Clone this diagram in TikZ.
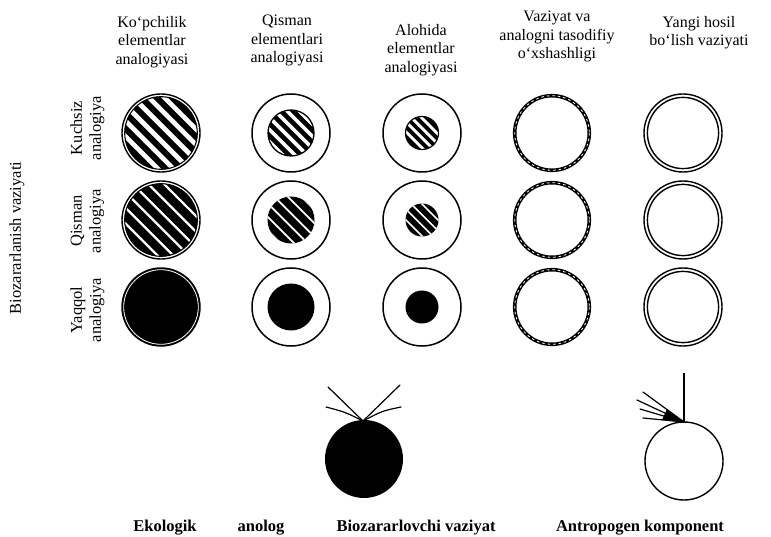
\documentclass[tikz,border=0pt]{standalone}
\usepackage{fontspec}
\setmainfont{Liberation Serif}
\newcommand\hatchdisc[6]{%
  \begin{scope}
    \clip (#1,#2) circle (#3);
    \foreach \k in {-6,...,6}{
      \draw[#5] (#1,#2) ++({(\k*#4+#6)*0.7071},{-(\k*#4+#6)*0.7071}) ++(-60,-60) -- ++(120,120);
    }
  \end{scope}}
\begin{document}
\begin{tikzpicture}[x=1pt,y=-1pt,
  hdr/.style={font=\fontsize{16}{18.5}\selectfont, align=center, inner sep=0pt, anchor=north},
  rowlab/.style={font=\fontsize{16.5}{19}\selectfont, align=center, rotate=90, inner sep=0pt},
  botlab/.style={font=\fontsize{16.5}{19}\selectfont\bfseries, inner sep=0pt, anchor=base},
  ring/.style={line width=1.5pt},
  hair/.style={line width=1.2pt, line cap=round},
]
\useasboundingbox (0,0) rectangle (771,537);
\fill[white] (0,0) rectangle (771,537);

% headers
\node[hdr] (h1) at (152,16) {Ko‘pchilik\\elementlar\\analogiyasi};
\node[hdr] (h2) at (287,15) {Qisman\\elementlari\\analogiyasi};
\node[hdr] (h3) at (421,24) {Alohida\\elementlar\\analogiyasi};
\node[hdr] (h4) at (557,11) {Vaziyat va\\analogni tasodifiy\\o‘xshashligi};
\node[hdr] (h5) at (699,16) {Yangi hosil\\bo‘lish vaziyati};

% side labels
\node[rowlab] (side) at (17,238) {Biozararlanish vaziyati};
\node[rowlab] (r1) at (87.5,128) {Kuchsiz\\analogiya};
\node[rowlab] (r2) at (87.5,221) {Qisman\\analogiya};
\node[rowlab] (r3) at (87.5,310) {Yaqqol\\analogiya};

% column 1
\hatchdisc{161}{133}{36.5}{11}{line width=6pt}{0}
\draw[line width=1.4pt] (161,133) circle (39);
\draw[line width=1.1pt] (161,133) circle (36.3);

\fill (161,220) circle (36.5);
\hatchdisc{161}{220}{36.5}{11}{white,line width=2.3pt}{5.5}
\draw[line width=1.4pt] (161,220) circle (39);
\draw[line width=1.1pt] (161,220) circle (36.3);

\fill (161,307) circle (39.7);
\draw[white,line width=0.8pt] (161,307) circle (37.3);

% column 2
\foreach \yy in {133,220,307}{\draw[ring] (291,\yy) circle (39);}
\hatchdisc{291}{133}{23}{8.5}{line width=4.6pt}{0}
\draw[line width=1.3pt] (291,133) circle (23);
\fill (291,220) circle (23.5);
\hatchdisc{291}{220}{23.5}{9.5}{white,line width=1.8pt}{4.75}
\fill (291,307) circle (23.5);

% column 3
\foreach \yy in {133,220,307}{\draw[ring] (422,\yy) circle (39);}
\hatchdisc{422}{133}{16.5}{7}{line width=3.8pt}{0}
\draw[line width=1.2pt] (422,133) circle (16.5);
\fill (422,220) circle (16.5);
\hatchdisc{422}{220}{16.5}{7.5}{white,line width=1.6pt}{3.75}
\fill (422,307) circle (16.5);

% column 4
\foreach \yy in {133,220,307}{
  \draw[line width=3.6pt] (552,\yy) circle (37.3);
  \draw[white,line width=0.8pt,dash pattern=on 2.5pt off 3pt] (552,\yy) circle (37.3);
}

% column 5
\foreach \yy in {133,220,307}{
  \draw[line width=1.4pt] (683,\yy) circle (39);
  \draw[line width=1.4pt] (683,\yy) circle (35.6);
}

% bottom: biozararlovchi
\fill (364,459) circle (39);
\coordinate (bt) at (363,421);
\draw[hair] (bt) -- (328,387);
\draw[hair] (bt) .. controls (345,412) .. (326,407);
\draw[hair] (bt) -- (400,385);
\draw[hair] (bt) .. controls (382,411) .. (401,407);

% bottom: antropogen
\draw[line width=1.4pt] (684,461) circle (39);
\coordinate (at) at (684,422);
\draw[line width=1.6pt] (at) -- (684,373);
\draw[hair] (at) -- (643,392);
\draw[hair] (at) -- (637,400);
\draw[hair] (at) -- (640,409);
\draw[hair] (at) -- (643,418);
\fill (684,422) -- (667,409) -- (662,420) -- cycle;

% bottom labels
\node[botlab] (b1) at (165,531) {Ekologik};
\node[botlab] (b2) at (261,531) {anolog};
\node[botlab] (b3) at (416,531) {Biozararlovchi vaziyat};
\node[botlab] (b4) at (640,531) {Antropogen komponent};
\end{tikzpicture}
\end{document}
